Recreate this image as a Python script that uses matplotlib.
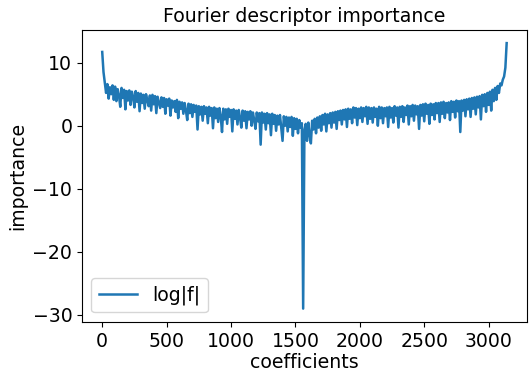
import numpy as np
import matplotlib
matplotlib.use("Agg")
import matplotlib.pyplot as plt

# coefficient index (every 10th coefficient)
coef = np.arange(0, 3141, 10)

# log|f| values, one row per 100 coefficients
log_f = [
    11.7, 8.5, 6.8, 5.2, 6.6, 4.3, 6.1, 5.0, 6.4, 4.1,
    6.2, 3.9, 5.8, 4.8, 3.0, 6.0, 4.4, 5.7, 2.6, 5.5,
    4.0, 5.6, 3.3, 5.4, 4.6, 2.9, 5.5, 3.8, 5.2, 2.3,
    5.1, 3.6, 4.9, 2.7, 5.0, 4.1, 3.1, 4.8, 2.4, 4.9,
    3.4, 4.7, 2.0, 4.6, 3.7, 2.8, 4.5, 3.0, 4.4, 1.9,
    4.2, 3.2, 4.3, 1.6, 4.0, 2.9, 3.9, 2.2, 4.1, 1.2,
    3.8, 2.7, 3.7, 1.9, 3.6, 2.4, 0.9, 3.5, 2.0, 3.4,
    1.4, 3.3, 2.2, 3.2, -0.6, 3.1, 1.8, 3.0, 0.8, 3.1,
    1.9, 2.9, 0.4, 3.0, 1.6, 2.8, -0.4, 2.9, 1.2, 2.7,
    0.6, 2.8, 1.5, -1.0, 2.7, 1.0, 2.6, 0.3, 2.7, 1.4,
    2.5, -0.9, 2.6, 1.1, 2.4, 0.2, 2.5, 1.3, -0.3, 2.4,
    0.8, 2.3, -0.4, 2.2, 1.0, 2.3, 0.0, 2.1, 0.9, -0.5,
    2.1, 0.7, 2.0, -3.0, 2.1, 0.5, 1.9, -0.6, 2.0, 0.4,
    1.8, -1.5, 1.9, 0.3, 1.7, -0.8, 1.6, 0.2, 1.7, -0.4,
    -2.4, 1.5, 0.0, 1.4, -0.9, 1.3, -0.2, 1.4, -1.6, 1.2,
    -0.5, 1.1, -1.2, 0.9, -0.3, 0.4, -29.0, -0.6, 0.3, -2.4,
    0.5, -1.5, -2.8, 0.8, -0.6, 1.1, -1.2, 1.3, -0.3, 1.5,
    -0.8, 1.7, 0.2, 1.9, -0.9, 1.8, 0.4, 2.0, -0.3, 2.1,
    0.5, 2.2, -0.5, 2.3, 0.9, 2.4, 0.2, 2.5, 1.0, 2.6,
    -0.2, 2.7, 1.1, 2.6, 0.4, 2.9, 1.3, 2.8, 0.1, 2.7,
    1.2, 2.9, 0.6, 2.8, 1.5, 3.0, 0.3, 2.9, 1.1, 2.8,
    0.5, 2.9, 1.4, 2.7, 0.0, 3.0, 1.2, 2.9, 0.4, 2.8,
    1.5, 2.9, -0.2, 3.0, 1.3, 2.8, 0.5, 3.1, 1.6, 2.9,
    -0.3, 3.0, 1.4, 3.1, 0.6, 2.9, 1.7, 3.2, 0.2, 3.1,
    1.5, 3.3, 0.8, 3.2, 1.8, 3.1, -0.5, 3.3, 1.6, 3.4,
    0.7, 3.5, 1.9, 3.3, 0.3, 3.5, 1.7, 3.4, 1.0, 3.6,
    2.0, 3.6, 0.6, 3.7, 1.9, 3.8, 1.2, 3.6, 2.1, 3.7,
    0.9, 3.9, 2.2, 3.8, 1.3, 4.0, 2.3, 3.9, -1.0, 4.0,
    2.4, 4.1, 1.5, 4.2, 2.6, 4.3, 1.4, 4.4, 2.7, 4.5,
    1.8, 4.6, 2.9, 4.7, 1.0, 4.9, 3.1, 5.0, 2.2, 5.2,
    3.3, 5.4, 2.4, 5.7, 3.9, 6.0, 4.1, 6.3, 5.2, 6.7,
    6.4, 7.3, 7.8, 9.2, 13.1,
]

plt.rcParams["font.size"] = 13.6

fig = plt.figure(figsize=(5.29, 3.73), dpi=100)
ax = fig.add_axes([0.155, 0.137, 0.841, 0.783])

ax.plot(coef, log_f, color="#1f77b4", linewidth=1.8, label="log|f|")

ax.set_title("Fourier descriptor importance", fontsize=13.6)
ax.set_xlabel("coefficients", labelpad=2)
ax.set_ylabel("importance")
ax.set_xticks([0, 500, 1000, 1500, 2000, 2500, 3000])
ax.set_yticks([-30, -20, -10, 0, 10])
ax.legend(loc="lower left")

fig.savefig("out.png", dpi=100)
